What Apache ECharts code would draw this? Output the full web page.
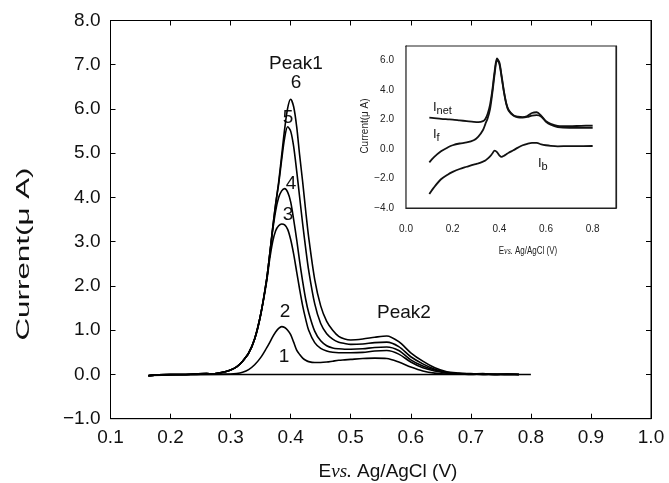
<!DOCTYPE html>
<html>
<head>
<meta charset="utf-8">
<script src="https://cdn.jsdelivr.net/npm/echarts@6/dist/echarts.min.js"></script>
<style>
html,body{margin:0;padding:0;background:#fff;}
#chart{width:669px;height:483px;}
</style>
</head>
<body>
<div id="chart"></div>
<script>
// ---- main chart data (E vs. Ag/AgCl in V, current in µA) ----
const potential = [0.163,0.18,0.20,0.22,0.24,0.26,0.27,0.28,0.29,0.30,0.31,0.32,0.33,0.34,0.35,0.36,0.365,0.37,0.375,0.38,0.385,0.39,0.395,0.40,0.405,0.41,0.415,0.42,0.425,0.43,0.44,0.45,0.46,0.47,0.48,0.49,0.50,0.52,0.54,0.56,0.58,0.60,0.62,0.64,0.66,0.68,0.70,0.72,0.74,0.76,0.78];
const curve6 = [-0.03,-0.01,0.00,0.00,0.01,0.02,0.01,0.03,0.06,0.10,0.17,0.30,0.48,0.80,1.35,2.15,2.70,3.30,3.85,4.35,4.95,5.55,6.02,6.22,6.05,5.60,4.95,4.35,3.70,3.10,2.15,1.55,1.20,1.00,0.86,0.80,0.78,0.80,0.84,0.87,0.74,0.49,0.30,0.15,0.06,0.03,0.01,0.02,0.00,0.01,0.00];
const curve5 = [-0.03,-0.01,0.00,0.00,0.01,0.02,0.01,0.03,0.06,0.10,0.17,0.30,0.48,0.80,1.35,2.15,2.70,3.30,3.85,4.30,4.85,5.35,5.60,5.50,5.15,4.60,4.00,3.40,2.85,2.35,1.60,1.15,0.92,0.80,0.73,0.70,0.68,0.69,0.72,0.73,0.63,0.40,0.24,0.12,0.05,0.02,0.02,0.00,0.01,0.00,0.00];
const curve4 = [-0.03,-0.01,0.00,0.00,0.01,0.02,0.01,0.03,0.06,0.10,0.17,0.30,0.48,0.80,1.35,2.15,2.70,3.25,3.70,4.00,4.15,4.20,4.12,3.90,3.50,3.05,2.55,2.10,1.70,1.40,0.98,0.76,0.65,0.60,0.58,0.57,0.57,0.58,0.61,0.62,0.54,0.33,0.19,0.10,0.04,0.02,0.01,0.01,0.00,0.01,0.00];
const curve3 = [-0.03,-0.01,0.00,0.00,0.01,0.02,0.01,0.03,0.06,0.10,0.17,0.30,0.48,0.80,1.35,2.10,2.60,3.00,3.25,3.36,3.40,3.38,3.28,3.05,2.72,2.32,1.92,1.55,1.25,1.00,0.72,0.59,0.53,0.50,0.49,0.49,0.49,0.50,0.53,0.54,0.46,0.28,0.15,0.08,0.03,0.01,0.01,0.00,0.00,0.00,0.00];
const curve2 = [-0.03,-0.01,0.00,0.00,0.00,0.01,0.01,0.01,0.01,0.01,0.02,0.05,0.11,0.22,0.38,0.60,0.72,0.85,0.96,1.04,1.08,1.06,1.00,0.90,0.73,0.55,0.45,0.37,0.32,0.29,0.27,0.27,0.28,0.30,0.32,0.33,0.34,0.36,0.37,0.36,0.28,0.17,0.08,0.03,0.01,0.01,0.00,0.01,0.00,0.00,0.00];
const baselinePotential = [0.163,0.30,0.50,0.70,0.80];
const curve1 = [-0.02,0.00,0.00,0.00,0.00];
const mainXTicks = [0.1,0.2,0.3,0.4,0.5,0.6,0.7,0.8,0.9,1.0];
const mainYTicks = [-1,0,1,2,3,4,5,6,7,8];

// ---- inset data ----
const insetPotential = [0.10,0.12,0.15,0.18,0.20,0.23,0.26,0.29,0.31,0.33,0.34,0.35,0.36,0.37,0.38,0.39,0.40,0.41,0.42,0.43,0.44,0.46,0.48,0.50,0.52,0.54,0.56,0.58,0.60,0.62,0.65,0.70,0.75,0.80];
const iNet = [2.13,2.10,2.05,2.02,2.00,1.95,1.90,1.85,1.83,1.90,2.05,2.40,3.00,4.00,5.30,6.15,5.90,4.95,3.90,3.10,2.65,2.30,2.20,2.17,2.25,2.45,2.50,2.25,1.90,1.72,1.58,1.55,1.58,1.60];
const iF = [-0.90,-0.55,-0.15,0.12,0.26,0.38,0.45,0.60,0.85,1.30,1.70,2.10,2.70,3.80,5.10,6.05,5.80,4.85,3.85,3.05,2.60,2.28,2.15,2.13,2.18,2.28,2.30,2.20,1.85,1.65,1.50,1.45,1.45,1.45];
const iB = [-3.05,-2.60,-2.05,-1.72,-1.55,-1.35,-1.20,-1.05,-0.97,-0.85,-0.78,-0.65,-0.50,-0.30,-0.10,-0.20,-0.42,-0.53,-0.45,-0.35,-0.25,-0.08,0.10,0.26,0.36,0.42,0.42,0.32,0.26,0.22,0.19,0.20,0.20,0.21];

const pair = (xs, ys) => xs.map((x, i) => [x, ys[i]]);
const FONT = "'Liberation Sans', Arial, Helvetica, sans-serif";
const SERIF = "'Liberation Serif', 'Times New Roman', serif";
const fmt1 = v => (v < -1e-9 ? '\u2212' : '') + Math.abs(v).toFixed(1);

const chart = echarts.init(document.getElementById('chart'), null, {renderer: 'canvas'});

function mainLine(data) {
  return {type: 'line', xAxisIndex: 0, yAxisIndex: 0, data: data, showSymbol: false, symbol: 'none',
    smooth: 0.3, lineStyle: {color: '#000', width: 1.6}, z: 3};
}
function insetLine(data) {
  return {type: 'line', xAxisIndex: 2, yAxisIndex: 2, data: data, showSymbol: false, symbol: 'none',
    smooth: 0.3, lineStyle: {color: '#111', width: 1.8}, z: 5};
}

const mainLineStyle = {show: true, onZero: false, lineStyle: {color: '#000', width: 1}};
const insetLineStyle = {show: true, onZero: false, lineStyle: {color: '#222', width: 1.2}};
const mainTick = {inside: true, length: 5, lineStyle: {color: '#000'}};
const insetTick = {inside: true, length: 4, lineStyle: {color: '#222'}};

const option = {
  animation: false,
  backgroundColor: '#fff',
  grid: [
    {left: 110.5, right: 18, top: 20.5, bottom: 64.3, show: true, borderColor: '#000', borderWidth: 1, backgroundColor: 'transparent'},
    {left: 406, right: 53, top: 46, bottom: 275, show: true, borderColor: '#222', borderWidth: 1.2, backgroundColor: '#fff', z: 4}
  ],
  xAxis: [
    {gridIndex: 0, type: 'value', position: 'bottom', min: mainXTicks[0], max: mainXTicks[mainXTicks.length-1], interval: 0.1,
      axisLine: mainLineStyle, axisTick: mainTick, splitLine: {show: false},
      axisLabel: {fontSize: 19, color: '#111', fontFamily: FONT, margin: 10, formatter: v => v.toFixed(1)}},
    {gridIndex: 0, type: 'value', position: 'top', min: 0.1, max: 1.0, interval: 0.1,
      axisLine: mainLineStyle, axisTick: mainTick, splitLine: {show: false}, axisLabel: {show: false}},
    {gridIndex: 1, type: 'value', position: 'bottom', min: 0, max: 0.9, interval: 0.2,
      axisLine: insetLineStyle, axisTick: insetTick, splitLine: {show: false},
      axisLabel: {fontSize: 10, color: '#222', fontFamily: FONT, margin: 16, showMaxLabel: false,
        formatter: v => (v > 0.85 ? '' : v.toFixed(1))}},
    {gridIndex: 1, type: 'value', position: 'top', min: 0, max: 0.9, interval: 0.2,
      axisLine: insetLineStyle, axisTick: insetTick, splitLine: {show: false}, axisLabel: {show: false}}
  ],
  yAxis: [
    {gridIndex: 0, type: 'value', position: 'left', min: mainYTicks[0], max: mainYTicks[mainYTicks.length-1], interval: 1,
      axisLine: mainLineStyle, axisTick: mainTick, splitLine: {show: false},
      axisLabel: {fontSize: 19, color: '#111', fontFamily: FONT, margin: 10, formatter: fmt1}},
    {gridIndex: 0, type: 'value', position: 'right', min: -1, max: 8, interval: 1,
      axisLine: mainLineStyle, axisTick: mainTick, splitLine: {show: false}, axisLabel: {show: false}},
    {gridIndex: 1, type: 'value', position: 'left', min: -4, max: 7, interval: 2,
      axisLine: insetLineStyle, axisTick: insetTick, splitLine: {show: false},
      axisLabel: {fontSize: 10, color: '#222', fontFamily: FONT, margin: 12, showMaxLabel: false,
        formatter: v => (v > 6.5 ? '' : fmt1(v))}},
    {gridIndex: 1, type: 'value', position: 'right', min: -4, max: 7, interval: 2,
      axisLine: insetLineStyle, axisTick: insetTick, splitLine: {show: false}, axisLabel: {show: false}}
  ],
  series: [
    mainLine(pair(baselinePotential, curve1)),
    mainLine(pair(potential, curve2)),
    mainLine(pair(potential, curve3)),
    mainLine(pair(potential, curve4)),
    mainLine(pair(potential, curve5)),
    mainLine(pair(potential, curve6)),
    insetLine(pair(insetPotential, iNet)),
    insetLine(pair(insetPotential, iF)),
    insetLine(pair(insetPotential, iB))
  ],
  graphic: [
    // main axis titles
    {type: 'text', x: 388, y: 472, style: {text: '{a|E}{b|vs.}{a| Ag/AgCl (V)}', align: 'center', verticalAlign: 'middle',
      rich: {a: {fontSize: 19, fontFamily: FONT, fill: '#111'}, b: {fontSize: 19, fontFamily: SERIF, fontStyle: 'italic', fill: '#111'}}}},
    {type: 'text', x: 24, y: 254, rotation: Math.PI / 2, scaleX: 1.65, style: {text: 'Current(\u03bc A)', align: 'center', verticalAlign: 'middle',
      fontSize: 19, fontFamily: FONT, fill: '#111'}},
    // peak annotations
    {type: 'text', x: 296, y: 64, style: {text: 'Peak1', align: 'center', verticalAlign: 'middle', fontSize: 19, fontFamily: FONT, fill: '#111'}},
    {type: 'text', x: 296, y: 83, style: {text: '6', align: 'center', verticalAlign: 'middle', fontSize: 19, fontFamily: FONT, fill: '#111'}},
    {type: 'text', x: 288, y: 118, style: {text: '5', align: 'center', verticalAlign: 'middle', fontSize: 19, fontFamily: FONT, fill: '#111'}},
    {type: 'text', x: 291, y: 184, style: {text: '4', align: 'center', verticalAlign: 'middle', fontSize: 19, fontFamily: FONT, fill: '#111'}},
    {type: 'text', x: 288, y: 215, style: {text: '3', align: 'center', verticalAlign: 'middle', fontSize: 19, fontFamily: FONT, fill: '#111'}},
    {type: 'text', x: 285, y: 312, style: {text: '2', align: 'center', verticalAlign: 'middle', fontSize: 19, fontFamily: FONT, fill: '#111'}},
    {type: 'text', x: 284, y: 357, style: {text: '1', align: 'center', verticalAlign: 'middle', fontSize: 19, fontFamily: FONT, fill: '#111'}},
    {type: 'text', x: 404, y: 313, style: {text: 'Peak2', align: 'center', verticalAlign: 'middle', fontSize: 19, fontFamily: FONT, fill: '#111'}},
    // inset titles
    {type: 'text', x: 528, y: 251, z: 10, scaleX: 0.8, style: {text: '{a|E}{b|vs.}{a| Ag/AgCl (V)}', align: 'center', verticalAlign: 'middle',
      rich: {a: {fontSize: 10, fontFamily: FONT, fill: '#222'}, b: {fontSize: 10, fontFamily: SERIF, fontStyle: 'italic', fill: '#222'}}}},
    {type: 'text', x: 365, y: 126, z: 10, rotation: Math.PI / 2, style: {text: 'Current(\u03bc A)', align: 'center', verticalAlign: 'middle',
      fontSize: 10, fontFamily: FONT, fill: '#222'}},
    // inset curve labels
    {type: 'text', x: 433, y: 107, z: 10, style: {text: '{i|I}{s|net}', align: 'left', verticalAlign: 'middle',
      rich: {i: {fontSize: 13, fontFamily: FONT, fill: '#111'}, s: {fontSize: 11, fontFamily: FONT, fill: '#111', padding: [8, 0, 0, 0]}}}},
    {type: 'text', x: 433, y: 134, z: 10, style: {text: '{i|I}{s|f}', align: 'left', verticalAlign: 'middle',
      rich: {i: {fontSize: 13, fontFamily: FONT, fill: '#111'}, s: {fontSize: 11, fontFamily: FONT, fill: '#111', padding: [8, 0, 0, 0]}}}},
    {type: 'text', x: 538, y: 163, z: 10, style: {text: '{i|I}{s|b}', align: 'left', verticalAlign: 'middle',
      rich: {i: {fontSize: 13, fontFamily: FONT, fill: '#111'}, s: {fontSize: 11, fontFamily: FONT, fill: '#111', padding: [8, 0, 0, 0]}}}}
  ]
};
chart.setOption(option);
</script>
</body>
</html>
